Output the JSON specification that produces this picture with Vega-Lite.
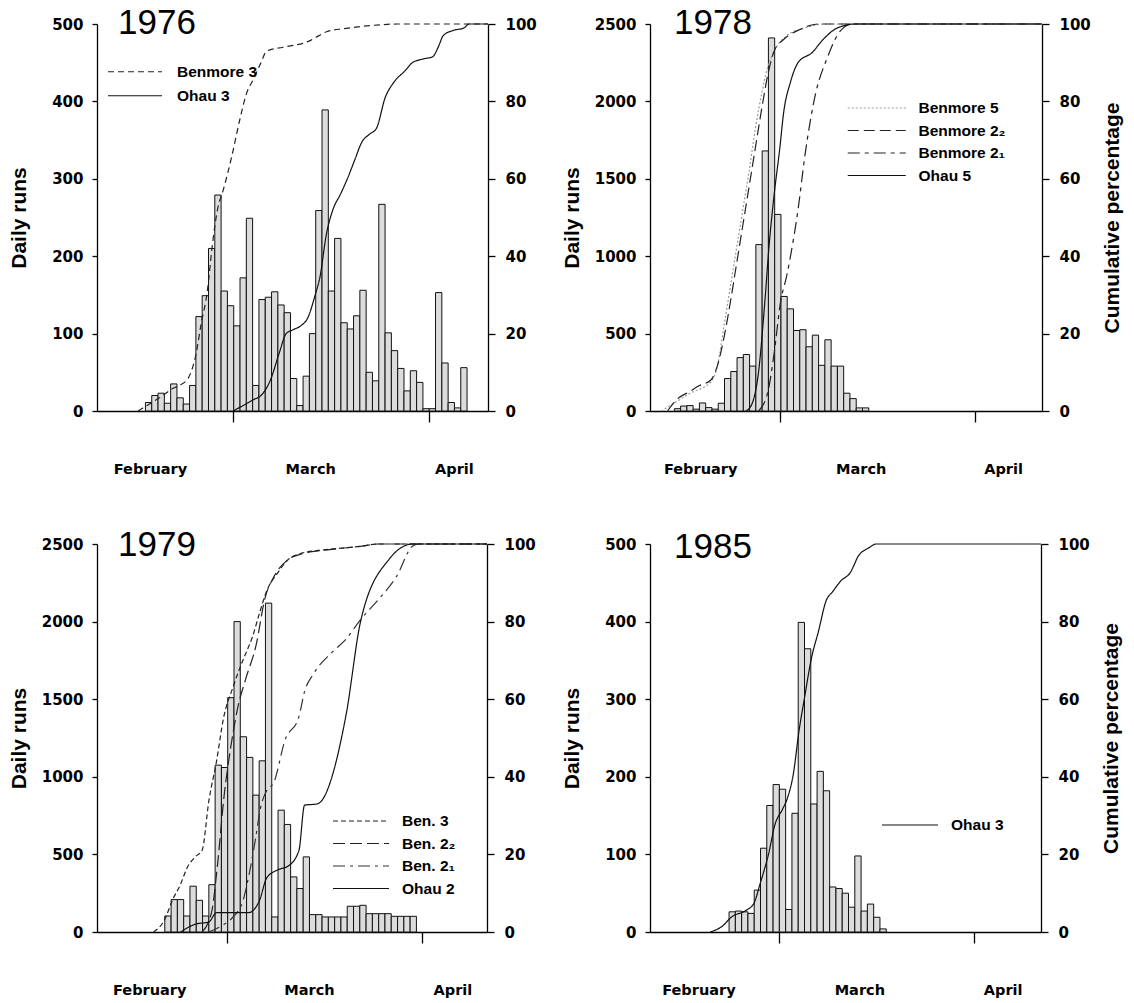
{
  "$schema": "https://vega.github.io/schema/vega-lite/v6.json",
  "background": "white",
  "padding": {"left": 8, "top": 6, "right": 5, "bottom": 3},
  "config": {
    "view": {"stroke": null},
    "font": "DejaVu Sans",
    "axis": {
      "grid": false, "format": "d",
      "labelFont": "DejaVu Sans", "labelFontWeight": "bold", "labelFontSize": 15, "labelColor": "#000",
      "titleFont": "Liberation Sans", "titleFontWeight": "bold", "titleFontSize": 21, "titleColor": "#000",
      "domainColor": "#000", "domainWidth": 1.3, "tickColor": "#000", "tickWidth": 1.3
    },
    "legend": {
      "title": null, "orient": "none", "symbolType": "M-4,0H4", "symbolStrokeWidth": 1.2,
      "labelFont": "Liberation Sans", "labelFontWeight": "bold", "labelFontSize": 15.5, "labelColor": "#000",
      "padding": 0
    }
  },
  "datasets": {
    "bars1976": [
      {"day": -14, "runs": 11}, {"day": -13, "runs": 20}, {"day": -12, "runs": 23}, {"day": -11, "runs": 10},
      {"day": -10, "runs": 35}, {"day": -9, "runs": 17}, {"day": -8, "runs": 9}, {"day": -7, "runs": 33},
      {"day": -6, "runs": 122}, {"day": -5, "runs": 149}, {"day": -4, "runs": 210}, {"day": -3, "runs": 279},
      {"day": -2, "runs": 155}, {"day": -1, "runs": 136}, {"day": 0, "runs": 110}, {"day": 1, "runs": 172},
      {"day": 2, "runs": 249}, {"day": 3, "runs": 33}, {"day": 4, "runs": 144}, {"day": 5, "runs": 147},
      {"day": 6, "runs": 154}, {"day": 7, "runs": 137}, {"day": 8, "runs": 127}, {"day": 9, "runs": 42},
      {"day": 10, "runs": 7}, {"day": 11, "runs": 45}, {"day": 12, "runs": 100}, {"day": 13, "runs": 259},
      {"day": 14, "runs": 389}, {"day": 15, "runs": 155}, {"day": 16, "runs": 223}, {"day": 17, "runs": 114},
      {"day": 18, "runs": 106}, {"day": 19, "runs": 123}, {"day": 20, "runs": 156}, {"day": 21, "runs": 50},
      {"day": 22, "runs": 39}, {"day": 23, "runs": 267}, {"day": 24, "runs": 101}, {"day": 25, "runs": 78},
      {"day": 26, "runs": 55}, {"day": 27, "runs": 26}, {"day": 28, "runs": 52}, {"day": 29, "runs": 37},
      {"day": 30, "runs": 3}, {"day": 31, "runs": 3}, {"day": 32, "runs": 153}, {"day": 33, "runs": 62},
      {"day": 34, "runs": 11}, {"day": 35, "runs": 4}, {"day": 36, "runs": 56}
    ],
    "cum1976": [
      {"series": "Benmore 3", "day": -15.1, "pct": 0}, {"series": "Benmore 3", "day": -13.4, "pct": 1.7},
      {"series": "Benmore 3", "day": -11.7, "pct": 3.4}, {"series": "Benmore 3", "day": -9.6, "pct": 5.8},
      {"series": "Benmore 3", "day": -8.2, "pct": 6.9}, {"series": "Benmore 3", "day": -7.1, "pct": 8.6},
      {"series": "Benmore 3", "day": -5.9, "pct": 14.7}, {"series": "Benmore 3", "day": -5.1, "pct": 22.4},
      {"series": "Benmore 3", "day": -4.1, "pct": 31}, {"series": "Benmore 3", "day": -3.3, "pct": 43},
      {"series": "Benmore 3", "day": -2.5, "pct": 52}, {"series": "Benmore 3", "day": -1.6, "pct": 57},
      {"series": "Benmore 3", "day": -0.2, "pct": 66}, {"series": "Benmore 3", "day": 1.0, "pct": 75},
      {"series": "Benmore 3", "day": 2.1, "pct": 82}, {"series": "Benmore 3", "day": 3.3, "pct": 86},
      {"series": "Benmore 3", "day": 4.4, "pct": 90}, {"series": "Benmore 3", "day": 5.3, "pct": 93},
      {"series": "Benmore 3", "day": 7.9, "pct": 94}, {"series": "Benmore 3", "day": 11.9, "pct": 95.5},
      {"series": "Benmore 3", "day": 13.6, "pct": 97}, {"series": "Benmore 3", "day": 14.8, "pct": 98},
      {"series": "Benmore 3", "day": 17.6, "pct": 98.8}, {"series": "Benmore 3", "day": 20.5, "pct": 99.4},
      {"series": "Benmore 3", "day": 23.4, "pct": 99.8}, {"series": "Benmore 3", "day": 26, "pct": 100},
      {"series": "Benmore 3", "day": 40.4, "pct": 100},
      {"series": "Ohau 3", "day": 0, "pct": 0}, {"series": "Ohau 3", "day": 1, "pct": 0.9},
      {"series": "Ohau 3", "day": 3.3, "pct": 3}, {"series": "Ohau 3", "day": 4.4, "pct": 4},
      {"series": "Ohau 3", "day": 5.9, "pct": 8}, {"series": "Ohau 3", "day": 7.3, "pct": 15},
      {"series": "Ohau 3", "day": 8.4, "pct": 20}, {"series": "Ohau 3", "day": 9.5, "pct": 21},
      {"series": "Ohau 3", "day": 10.7, "pct": 22}, {"series": "Ohau 3", "day": 11.8, "pct": 24},
      {"series": "Ohau 3", "day": 13, "pct": 30}, {"series": "Ohau 3", "day": 13.8, "pct": 35},
      {"series": "Ohau 3", "day": 14.7, "pct": 45}, {"series": "Ohau 3", "day": 15.8, "pct": 52},
      {"series": "Ohau 3", "day": 17, "pct": 56}, {"series": "Ohau 3", "day": 18.1, "pct": 60},
      {"series": "Ohau 3", "day": 19.3, "pct": 65}, {"series": "Ohau 3", "day": 20.4, "pct": 69.5},
      {"series": "Ohau 3", "day": 21.6, "pct": 71.5}, {"series": "Ohau 3", "day": 22.7, "pct": 73},
      {"series": "Ohau 3", "day": 24.1, "pct": 81}, {"series": "Ohau 3", "day": 25.5, "pct": 85},
      {"series": "Ohau 3", "day": 27.3, "pct": 88}, {"series": "Ohau 3", "day": 28.4, "pct": 90},
      {"series": "Ohau 3", "day": 30.2, "pct": 91}, {"series": "Ohau 3", "day": 31.6, "pct": 91.5},
      {"series": "Ohau 3", "day": 32.5, "pct": 94}, {"series": "Ohau 3", "day": 33.3, "pct": 97},
      {"series": "Ohau 3", "day": 34.8, "pct": 98.3}, {"series": "Ohau 3", "day": 36.6, "pct": 99},
      {"series": "Ohau 3", "day": 37.4, "pct": 100}, {"series": "Ohau 3", "day": 40.4, "pct": 100}
    ],
    "bars1978": [
      {"day": -17, "runs": 15}, {"day": -16, "runs": 32}, {"day": -15, "runs": 35}, {"day": -14, "runs": 12},
      {"day": -13, "runs": 52}, {"day": -12, "runs": 22}, {"day": -11, "runs": 12}, {"day": -10, "runs": 50},
      {"day": -9, "runs": 210}, {"day": -8, "runs": 255}, {"day": -7, "runs": 345}, {"day": -6, "runs": 365},
      {"day": -5, "runs": 290}, {"day": -4, "runs": 1075}, {"day": -3, "runs": 1680}, {"day": -2, "runs": 2410},
      {"day": -1, "runs": 1270}, {"day": 0, "runs": 740}, {"day": 1, "runs": 660}, {"day": 2, "runs": 520},
      {"day": 3, "runs": 525}, {"day": 4, "runs": 415}, {"day": 5, "runs": 490}, {"day": 6, "runs": 295},
      {"day": 7, "runs": 460}, {"day": 8, "runs": 290}, {"day": 9, "runs": 290}, {"day": 10, "runs": 115},
      {"day": 11, "runs": 80}, {"day": 12, "runs": 20}, {"day": 13, "runs": 20}
    ],
    "cum1978": [
      {"series": "Benmore 5", "day": -19, "pct": 0}, {"series": "Benmore 5", "day": -17, "pct": 2},
      {"series": "Benmore 5", "day": -14.5, "pct": 4.5}, {"series": "Benmore 5", "day": -11.1, "pct": 7.5},
      {"series": "Benmore 5", "day": -10, "pct": 12}, {"series": "Benmore 5", "day": -9, "pct": 22},
      {"series": "Benmore 5", "day": -8, "pct": 32}, {"series": "Benmore 5", "day": -7, "pct": 42},
      {"series": "Benmore 5", "day": -6, "pct": 52}, {"series": "Benmore 5", "day": -5, "pct": 62},
      {"series": "Benmore 5", "day": -4, "pct": 73}, {"series": "Benmore 5", "day": -3, "pct": 82},
      {"series": "Benmore 5", "day": -2, "pct": 89}, {"series": "Benmore 5", "day": -1, "pct": 93},
      {"series": "Benmore 5", "day": 1, "pct": 97}, {"series": "Benmore 5", "day": 4, "pct": 99},
      {"series": "Benmore 5", "day": 7, "pct": 100}, {"series": "Benmore 5", "day": 41.7, "pct": 100},
      {"series": "Benmore 2₂", "day": -18, "pct": 0}, {"series": "Benmore 2₂", "day": -16.5, "pct": 3},
      {"series": "Benmore 2₂", "day": -14.5, "pct": 5}, {"series": "Benmore 2₂", "day": -13, "pct": 6.5},
      {"series": "Benmore 2₂", "day": -11.1, "pct": 8}, {"series": "Benmore 2₂", "day": -10, "pct": 12},
      {"series": "Benmore 2₂", "day": -9, "pct": 19}, {"series": "Benmore 2₂", "day": -8, "pct": 28},
      {"series": "Benmore 2₂", "day": -7, "pct": 38}, {"series": "Benmore 2₂", "day": -6, "pct": 48},
      {"series": "Benmore 2₂", "day": -5, "pct": 58}, {"series": "Benmore 2₂", "day": -4, "pct": 68},
      {"series": "Benmore 2₂", "day": -3, "pct": 78}, {"series": "Benmore 2₂", "day": -2, "pct": 87},
      {"series": "Benmore 2₂", "day": -1, "pct": 93}, {"series": "Benmore 2₂", "day": 0.5, "pct": 96},
      {"series": "Benmore 2₂", "day": 3, "pct": 98.5}, {"series": "Benmore 2₂", "day": 6, "pct": 100},
      {"series": "Benmore 2₂", "day": 41.7, "pct": 100},
      {"series": "Benmore 2₁", "day": -3.5, "pct": 0}, {"series": "Benmore 2₁", "day": -2, "pct": 5},
      {"series": "Benmore 2₁", "day": -1, "pct": 15}, {"series": "Benmore 2₁", "day": 0, "pct": 28},
      {"series": "Benmore 2₁", "day": 1, "pct": 35}, {"series": "Benmore 2₁", "day": 1.6, "pct": 40},
      {"series": "Benmore 2₁", "day": 2.8, "pct": 52}, {"series": "Benmore 2₁", "day": 3.9, "pct": 66},
      {"series": "Benmore 2₁", "day": 5.6, "pct": 82}, {"series": "Benmore 2₁", "day": 7.4, "pct": 91},
      {"series": "Benmore 2₁", "day": 9.7, "pct": 98.5}, {"series": "Benmore 2₁", "day": 11.5, "pct": 100},
      {"series": "Benmore 2₁", "day": 41.7, "pct": 100},
      {"series": "Ohau 5", "day": -5.5, "pct": 0}, {"series": "Ohau 5", "day": -4.5, "pct": 2},
      {"series": "Ohau 5", "day": -3.5, "pct": 10}, {"series": "Ohau 5", "day": -2.5, "pct": 28},
      {"series": "Ohau 5", "day": -1.8, "pct": 43}, {"series": "Ohau 5", "day": -1, "pct": 56},
      {"series": "Ohau 5", "day": -0.1, "pct": 68}, {"series": "Ohau 5", "day": 0.5, "pct": 77},
      {"series": "Ohau 5", "day": 1.6, "pct": 85}, {"series": "Ohau 5", "day": 2.8, "pct": 90},
      {"series": "Ohau 5", "day": 5.1, "pct": 92.7}, {"series": "Ohau 5", "day": 6.8, "pct": 96},
      {"series": "Ohau 5", "day": 9.1, "pct": 99}, {"series": "Ohau 5", "day": 12, "pct": 100},
      {"series": "Ohau 5", "day": 41.7, "pct": 100}
    ],
    "bars1979": [
      {"day": -10, "runs": 103}, {"day": -9, "runs": 209}, {"day": -8, "runs": 209}, {"day": -7, "runs": 103},
      {"day": -6, "runs": 295}, {"day": -5, "runs": 204}, {"day": -4, "runs": 103}, {"day": -3, "runs": 305},
      {"day": -2, "runs": 1075}, {"day": -1, "runs": 1060}, {"day": 0, "runs": 1510}, {"day": 1, "runs": 2000},
      {"day": 2, "runs": 1258}, {"day": 3, "runs": 1125}, {"day": 4, "runs": 882}, {"day": 5, "runs": 1103},
      {"day": 6, "runs": 2119}, {"day": 7, "runs": 97}, {"day": 8, "runs": 785}, {"day": 9, "runs": 693},
      {"day": 10, "runs": 355}, {"day": 11, "runs": 280}, {"day": 12, "runs": 484}, {"day": 13, "runs": 112},
      {"day": 14, "runs": 112}, {"day": 15, "runs": 97}, {"day": 16, "runs": 97}, {"day": 17, "runs": 97},
      {"day": 18, "runs": 97}, {"day": 19, "runs": 166}, {"day": 20, "runs": 166}, {"day": 21, "runs": 172},
      {"day": 22, "runs": 118}, {"day": 23, "runs": 118}, {"day": 24, "runs": 118}, {"day": 25, "runs": 118},
      {"day": 26, "runs": 101}, {"day": 27, "runs": 101}, {"day": 28, "runs": 101}, {"day": 29, "runs": 101}
    ],
    "cum1979": [
      {"series": "Ben. 3", "day": -11.7, "pct": 0}, {"series": "Ben. 3", "day": -10, "pct": 3},
      {"series": "Ben. 3", "day": -8.6, "pct": 8.6}, {"series": "Ben. 3", "day": -7.5, "pct": 12},
      {"series": "Ben. 3", "day": -6.3, "pct": 16.8}, {"series": "Ben. 3", "day": -5, "pct": 19.5},
      {"series": "Ben. 3", "day": -4, "pct": 21}, {"series": "Ben. 3", "day": -2.9, "pct": 34},
      {"series": "Ben. 3", "day": -1.7, "pct": 44}, {"series": "Ben. 3", "day": -0.6, "pct": 55},
      {"series": "Ben. 3", "day": 0.9, "pct": 63}, {"series": "Ben. 3", "day": 2, "pct": 68},
      {"series": "Ben. 3", "day": 3, "pct": 72}, {"series": "Ben. 3", "day": 4, "pct": 76},
      {"series": "Ben. 3", "day": 5.1, "pct": 82}, {"series": "Ben. 3", "day": 6.3, "pct": 88},
      {"series": "Ben. 3", "day": 8, "pct": 92.5}, {"series": "Ben. 3", "day": 9.7, "pct": 96},
      {"series": "Ben. 3", "day": 12, "pct": 97.7}, {"series": "Ben. 3", "day": 15.4, "pct": 98.5},
      {"series": "Ben. 3", "day": 21.2, "pct": 99.4}, {"series": "Ben. 3", "day": 24, "pct": 100},
      {"series": "Ben. 3", "day": 41.3, "pct": 100},
      {"series": "Ben. 2₂", "day": -4, "pct": 0}, {"series": "Ben. 2₂", "day": -2.5, "pct": 5},
      {"series": "Ben. 2₂", "day": -1.5, "pct": 18}, {"series": "Ben. 2₂", "day": -0.5, "pct": 35},
      {"series": "Ben. 2₂", "day": 0.6, "pct": 48}, {"series": "Ben. 2₂", "day": 1.7, "pct": 58},
      {"series": "Ben. 2₂", "day": 2.9, "pct": 65}, {"series": "Ben. 2₂", "day": 4.6, "pct": 74},
      {"series": "Ben. 2₂", "day": 6, "pct": 86}, {"series": "Ben. 2₂", "day": 7.4, "pct": 91.5},
      {"series": "Ben. 2₂", "day": 9.7, "pct": 96}, {"series": "Ben. 2₂", "day": 12, "pct": 97.5},
      {"series": "Ben. 2₂", "day": 15.4, "pct": 98.4}, {"series": "Ben. 2₂", "day": 21.2, "pct": 99.4},
      {"series": "Ben. 2₂", "day": 24, "pct": 100}, {"series": "Ben. 2₂", "day": 41.3, "pct": 100},
      {"series": "Ben. 2₁", "day": -3, "pct": 0}, {"series": "Ben. 2₁", "day": -1, "pct": 1.5},
      {"series": "Ben. 2₁", "day": 1, "pct": 4}, {"series": "Ben. 2₁", "day": 2.5, "pct": 8},
      {"series": "Ben. 2₁", "day": 3.5, "pct": 15}, {"series": "Ben. 2₁", "day": 4.5, "pct": 24},
      {"series": "Ben. 2₁", "day": 5.3, "pct": 32}, {"series": "Ben. 2₁", "day": 6.3, "pct": 36.5},
      {"series": "Ben. 2₁", "day": 7.4, "pct": 38.5}, {"series": "Ben. 2₁", "day": 9.2, "pct": 49.5},
      {"series": "Ben. 2₁", "day": 11.4, "pct": 55.5}, {"series": "Ben. 2₁", "day": 12.3, "pct": 62},
      {"series": "Ben. 2₁", "day": 13.7, "pct": 66.5}, {"series": "Ben. 2₁", "day": 16.6, "pct": 72},
      {"series": "Ben. 2₁", "day": 18.9, "pct": 75.5}, {"series": "Ben. 2₁", "day": 21.2, "pct": 80.5},
      {"series": "Ben. 2₁", "day": 24, "pct": 85.6}, {"series": "Ben. 2₁", "day": 26.9, "pct": 91.6},
      {"series": "Ben. 2₁", "day": 29.5, "pct": 99.5}, {"series": "Ben. 2₁", "day": 30.5, "pct": 100},
      {"series": "Ben. 2₁", "day": 41.3, "pct": 100},
      {"series": "Ohau 2", "day": -7.4, "pct": 0}, {"series": "Ohau 2", "day": -5.1, "pct": 2},
      {"series": "Ohau 2", "day": -2.9, "pct": 2.6}, {"series": "Ohau 2", "day": -1.7, "pct": 5},
      {"series": "Ohau 2", "day": 3.4, "pct": 5}, {"series": "Ohau 2", "day": 5.1, "pct": 8},
      {"series": "Ohau 2", "day": 6.3, "pct": 14}, {"series": "Ohau 2", "day": 8, "pct": 16},
      {"series": "Ohau 2", "day": 9.7, "pct": 17}, {"series": "Ohau 2", "day": 11.4, "pct": 21},
      {"series": "Ohau 2", "day": 12.3, "pct": 32.7}, {"series": "Ohau 2", "day": 14.3, "pct": 33},
      {"series": "Ohau 2", "day": 18.9, "pct": 56}, {"series": "Ohau 2", "day": 21.2, "pct": 80},
      {"series": "Ohau 2", "day": 25.7, "pct": 96}, {"series": "Ohau 2", "day": 29.5, "pct": 100},
      {"series": "Ohau 2", "day": 41.3, "pct": 100}
    ],
    "bars1985": [
      {"day": -8, "runs": 26}, {"day": -7, "runs": 27}, {"day": -6, "runs": 26}, {"day": -5, "runs": 24},
      {"day": -4, "runs": 54}, {"day": -3, "runs": 108}, {"day": -2, "runs": 163}, {"day": -1, "runs": 190},
      {"day": 0, "runs": 184}, {"day": 1, "runs": 29}, {"day": 2, "runs": 153}, {"day": 3, "runs": 399},
      {"day": 4, "runs": 365}, {"day": 5, "runs": 165}, {"day": 6, "runs": 207}, {"day": 7, "runs": 182},
      {"day": 8, "runs": 58}, {"day": 9, "runs": 56}, {"day": 10, "runs": 50}, {"day": 11, "runs": 32},
      {"day": 12, "runs": 98}, {"day": 13, "runs": 27}, {"day": 14, "runs": 36}, {"day": 15, "runs": 19},
      {"day": 16, "runs": 4}
    ],
    "cum1985": [
      {"series": "Ohau 3", "day": -10.9, "pct": 0}, {"series": "Ohau 3", "day": -9, "pct": 1.5},
      {"series": "Ohau 3", "day": -7.5, "pct": 3.9}, {"series": "Ohau 3", "day": -5.2, "pct": 5.6},
      {"series": "Ohau 3", "day": -4, "pct": 7.3}, {"series": "Ohau 3", "day": -2.9, "pct": 12.9},
      {"series": "Ohau 3", "day": -1.7, "pct": 19.7}, {"series": "Ohau 3", "day": -0.6, "pct": 27.8},
      {"series": "Ohau 3", "day": 0.6, "pct": 31.7}, {"series": "Ohau 3", "day": 1.4, "pct": 34.7},
      {"series": "Ohau 3", "day": 2.3, "pct": 40.7}, {"series": "Ohau 3", "day": 3.2, "pct": 51.8},
      {"series": "Ohau 3", "day": 4, "pct": 59.6}, {"series": "Ohau 3", "day": 5.2, "pct": 70.7},
      {"series": "Ohau 3", "day": 6.3, "pct": 77.5}, {"series": "Ohau 3", "day": 7.5, "pct": 85.3},
      {"series": "Ohau 3", "day": 8.6, "pct": 87.8}, {"series": "Ohau 3", "day": 9.8, "pct": 90.4},
      {"series": "Ohau 3", "day": 11.5, "pct": 93}, {"series": "Ohau 3", "day": 12, "pct": 94.7},
      {"series": "Ohau 3", "day": 12.6, "pct": 96.8}, {"series": "Ohau 3", "day": 14.3, "pct": 99},
      {"series": "Ohau 3", "day": 15.5, "pct": 100}, {"series": "Ohau 3", "day": 41.7, "pct": 100}
    ]
  },
  "columns": 2,
  "spacing": {"row": 133, "column": 162},
  "bounds": "flush",
  "resolve": {"scale": {"color": "independent", "strokeDash": "independent"}, "legend": {"color": "independent", "strokeDash": "independent"}},
  "concat": [
    {
      "width": 391, "height": 387,
      "title": {"text": "1976", "anchor": "start", "frame": "group", "offset": -11, "dy": 41, "baseline": "alphabetic", "dx": 21, "font": "Liberation Sans", "fontSize": 35, "fontWeight": "normal", "color": "#000"},
      "layer": [
        {
          "data": {"name": "bars1976"},
          "mark": {"type": "bar", "binSpacing": 0, "fill": "#dcdcdc", "stroke": "#111", "strokeWidth": 1},
          "encoding": {
            "x": {"field": "day", "type": "quantitative", "bin": {"step": 1, "extent": [-30, 50]},
              "scale": {"domain": [-21.6, 40.4], "nice": false, "zero": false},
              "axis": {"title": null, "values": [-13.2, 0, 12.2, 31, 35], "labelExpr": "datum.value < -5 ? 'February' : datum.value > 33 ? 'April' : (datum.value > 5 && datum.value < 25 ? 'March' : '')", "tickSize": 11, "tickOpacity": {"condition": {"test": "datum.value == 0 || datum.value == 31", "value": 1}, "value": 0}, "labelPadding": 40, "labelFontSize": 14.5, "labelOverlap": false, "labelFlush": false, "labelBound": false}},
            "y": {"field": "runs", "type": "quantitative", "scale": {"domain": [0, 500], "nice": false},
              "axis": {"orient": "left", "values": [0, 100, 200, 300, 400, 500], "title": "Daily runs", "tickSize": 5, "labelPadding": 9, "titleX": -72, "titleBaseline": "alphabetic"}}
          }
        },
        {
          "data": {"name": "cum1976"},
          "mark": {"type": "line", "interpolate": "monotone", "strokeWidth": 1.2},
          "encoding": {
            "x": {"field": "day", "type": "quantitative", "scale": {"domain": [-21.6, 40.4], "nice": false, "zero": false}},
            "y": {"field": "pct", "type": "quantitative", "scale": {"domain": [0, 100], "nice": false},
              "axis": {"orient": "right", "values": [0, 20, 40, 60, 80, 100], "title": null, "tickSize": 7, "labelPadding": 10}},
            "strokeDash": {"field": "series", "type": "nominal", "scale": {"domain": ["Benmore 3", "Ohau 3"], "range": [[6, 4], [1, 0]]},
              "legend": {"legendX": 30.25, "legendY": 40, "symbolSize": 182.25, "labelOffset": 34.25, "rowPadding": 7}},
            "color": {"field": "series", "type": "nominal", "scale": {"domain": ["Benmore 3", "Ohau 3"], "range": ["#222", "#111"]},
              "legend": {"legendX": 30.25, "legendY": 40, "symbolSize": 182.25, "labelOffset": 34.25, "rowPadding": 7}}
          }
        }
      ],
      "resolve": {"scale": {"y": "independent"}}
    },
    {
      "width": 392, "height": 387,
      "title": {"text": "1978", "anchor": "start", "frame": "group", "offset": -11, "dy": 41, "baseline": "alphabetic", "dx": 24, "font": "Liberation Sans", "fontSize": 35, "fontWeight": "normal", "color": "#000"},
      "layer": [
        {
          "data": {"name": "bars1978"},
          "mark": {"type": "bar", "binSpacing": 0, "fill": "#dcdcdc", "stroke": "#111", "strokeWidth": 1},
          "encoding": {
            "x": {"field": "day", "type": "quantitative", "bin": {"step": 1, "extent": [-30, 50]},
              "scale": {"domain": [-20.8, 41.7], "nice": false, "zero": false},
              "axis": {"title": null, "values": [-12.8, 0, 12.8, 31, 35.5], "labelExpr": "datum.value < -5 ? 'February' : datum.value > 33 ? 'April' : (datum.value > 5 && datum.value < 25 ? 'March' : '')", "tickSize": 11, "tickOpacity": {"condition": {"test": "datum.value == 0 || datum.value == 31", "value": 1}, "value": 0}, "labelPadding": 40, "labelFontSize": 14.5, "labelOverlap": false, "labelFlush": false, "labelBound": false}},
            "y": {"field": "runs", "type": "quantitative", "scale": {"domain": [0, 2500], "nice": false},
              "axis": {"orient": "left", "values": [0, 500, 1000, 1500, 2000, 2500], "title": "Daily runs", "tickSize": 5, "labelPadding": 9, "titleX": -72, "titleBaseline": "alphabetic"}}
          }
        },
        {
          "data": {"name": "cum1978"},
          "mark": {"type": "line", "interpolate": "monotone", "strokeWidth": 1.2},
          "encoding": {
            "x": {"field": "day", "type": "quantitative", "scale": {"domain": [-20.8, 41.7], "nice": false, "zero": false}},
            "y": {"field": "pct", "type": "quantitative", "scale": {"domain": [0, 100], "nice": false},
              "axis": {"orient": "right", "values": [0, 20, 40, 60, 80, 100], "title": "Cumulative percentage", "titleAngle": 270, "titleX": 76, "titleBaseline": "alphabetic", "tickSize": 7, "labelPadding": 10}},
            "strokeDash": {"field": "series", "type": "nominal", "scale": {"domain": ["Benmore 5", "Benmore 2₂", "Benmore 2₁", "Ohau 5"], "range": [[2, 2], [11, 5], [12, 5, 4, 5], [1, 0]]},
              "legend": {"legendX": 218.75, "legendY": 76, "symbolSize": 210.25, "labelOffset": 33.75, "rowPadding": 5.5}},
            "color": {"field": "series", "type": "nominal", "scale": {"domain": ["Benmore 5", "Benmore 2₂", "Benmore 2₁", "Ohau 5"], "range": ["#9a9a9a", "#222", "#222", "#111"]},
              "legend": {"legendX": 218.75, "legendY": 76, "symbolSize": 210.25, "labelOffset": 33.75, "rowPadding": 5.5}}
          }
        }
      ],
      "resolve": {"scale": {"y": "independent"}}
    },
    {
      "width": 390, "height": 388,
      "title": {"text": "1979", "anchor": "start", "frame": "group", "offset": -11, "dy": 43, "baseline": "alphabetic", "dx": 21, "font": "Liberation Sans", "fontSize": 35, "fontWeight": "normal", "color": "#000"},
      "layer": [
        {
          "data": {"name": "bars1979"},
          "mark": {"type": "bar", "binSpacing": 0, "fill": "#dcdcdc", "stroke": "#111", "strokeWidth": 1},
          "encoding": {
            "x": {"field": "day", "type": "quantitative", "bin": {"step": 1, "extent": [-30, 50]},
              "scale": {"domain": [-20.7, 41.3], "nice": false, "zero": false},
              "axis": {"title": null, "values": [-12.4, 0, 13, 31, 35.8], "labelExpr": "datum.value < -5 ? 'February' : datum.value > 33 ? 'April' : (datum.value > 5 && datum.value < 25 ? 'March' : '')", "tickSize": 11, "tickOpacity": {"condition": {"test": "datum.value == 0 || datum.value == 31", "value": 1}, "value": 0}, "labelPadding": 40, "labelFontSize": 14.5, "labelOverlap": false, "labelFlush": false, "labelBound": false}},
            "y": {"field": "runs", "type": "quantitative", "scale": {"domain": [0, 2500], "nice": false},
              "axis": {"orient": "left", "values": [0, 500, 1000, 1500, 2000, 2500], "title": "Daily runs", "tickSize": 5, "labelPadding": 9, "titleX": -72, "titleBaseline": "alphabetic"}}
          }
        },
        {
          "data": {"name": "cum1979"},
          "mark": {"type": "line", "interpolate": "monotone", "strokeWidth": 1.2},
          "encoding": {
            "x": {"field": "day", "type": "quantitative", "scale": {"domain": [-20.7, 41.3], "nice": false, "zero": false}},
            "y": {"field": "pct", "type": "quantitative", "scale": {"domain": [0, 100], "nice": false},
              "axis": {"orient": "right", "values": [0, 20, 40, 60, 80, 100], "title": null, "tickSize": 7, "labelPadding": 10}},
            "strokeDash": {"field": "series", "type": "nominal", "scale": {"domain": ["Ben. 3", "Ben. 2₂", "Ben. 2₁", "Ohau 2"], "range": [[5, 3], [12, 5], [12, 5, 3, 5], [1, 0]]},
              "legend": {"legendX": 256, "legendY": 269, "symbolSize": 196, "labelOffset": 33, "rowPadding": 5.5}},
            "color": {"field": "series", "type": "nominal", "scale": {"domain": ["Ben. 3", "Ben. 2₂", "Ben. 2₁", "Ohau 2"], "range": ["#222", "#222", "#333", "#111"]},
              "legend": {"legendX": 256, "legendY": 269, "symbolSize": 196, "labelOffset": 33, "rowPadding": 5.5}}
          }
        }
      ],
      "resolve": {"scale": {"y": "independent"}}
    },
    {
      "width": 391, "height": 388,
      "title": {"text": "1985", "anchor": "start", "frame": "group", "offset": -11, "dy": 45, "baseline": "alphabetic", "dx": 24, "font": "Liberation Sans", "fontSize": 35, "fontWeight": "normal", "color": "#000"},
      "layer": [
        {
          "data": {"name": "bars1985"},
          "mark": {"type": "bar", "binSpacing": 0, "fill": "#dcdcdc", "stroke": "#111", "strokeWidth": 1},
          "encoding": {
            "x": {"field": "day", "type": "quantitative", "bin": {"step": 1, "extent": [-30, 50]},
              "scale": {"domain": [-20.5, 41.7], "nice": false, "zero": false},
              "axis": {"title": null, "values": [-12.8, 0, 12.8, 31, 35.6], "labelExpr": "datum.value < -5 ? 'February' : datum.value > 33 ? 'April' : (datum.value > 5 && datum.value < 25 ? 'March' : '')", "tickSize": 11, "tickOpacity": {"condition": {"test": "datum.value == 0 || datum.value == 31", "value": 1}, "value": 0}, "labelPadding": 40, "labelFontSize": 14.5, "labelOverlap": false, "labelFlush": false, "labelBound": false}},
            "y": {"field": "runs", "type": "quantitative", "scale": {"domain": [0, 500], "nice": false},
              "axis": {"orient": "left", "values": [0, 100, 200, 300, 400, 500], "title": "Daily runs", "tickSize": 5, "labelPadding": 9, "titleX": -72, "titleBaseline": "alphabetic"}}
          }
        },
        {
          "data": {"name": "cum1985"},
          "mark": {"type": "line", "interpolate": "monotone", "strokeWidth": 1.2},
          "encoding": {
            "x": {"field": "day", "type": "quantitative", "scale": {"domain": [-20.5, 41.7], "nice": false, "zero": false}},
            "y": {"field": "pct", "type": "quantitative", "scale": {"domain": [0, 100], "nice": false},
              "axis": {"orient": "right", "values": [0, 20, 40, 60, 80, 100], "title": "Cumulative percentage", "titleAngle": 270, "titleX": 76, "titleBaseline": "alphabetic", "tickSize": 7, "labelPadding": 10}},
            "strokeDash": {"field": "series", "type": "nominal", "scale": {"domain": ["Ohau 3"], "range": [[1, 0]]},
              "legend": {"legendX": 252, "legendY": 273, "symbolSize": 196, "labelOffset": 33}},
            "color": {"field": "series", "type": "nominal", "scale": {"domain": ["Ohau 3"], "range": ["#111"]},
              "legend": {"legendX": 252, "legendY": 273, "symbolSize": 196, "labelOffset": 33}}
          }
        }
      ],
      "resolve": {"scale": {"y": "independent"}}
    }
  ]
}
